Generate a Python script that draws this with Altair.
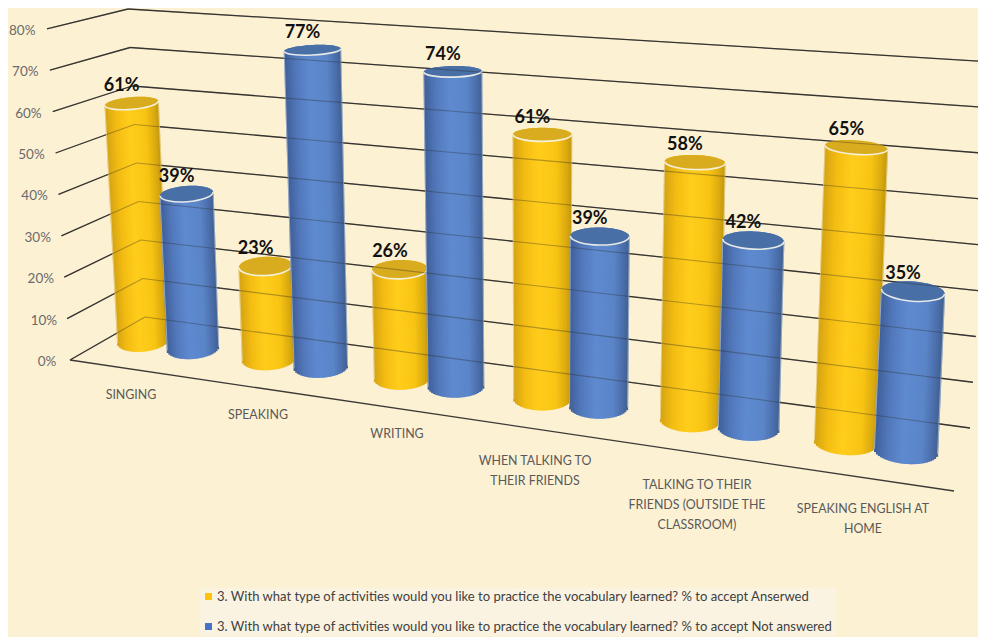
import math
import altair as alt
import pandas as pd

CATEGORIES = ["SINGING", "SPEAKING", "WRITING", "WHEN TALKING TO\nTHEIR FRIENDS",
              "TALKING TO THEIR\nFRIENDS (OUTSIDE THE\nCLASSROOM)", "SPEAKING ENGLISH AT\nHOME"]
ANSWERED = [61, 23, 26, 61, 58, 65]
NOT_ANSWERED = [39, 77, 74, 39, 42, 35]
TICKS = [0, 10, 20, 30, 40, 50, 60, 70, 80]
SERIES = ["3. With what type of activities would you like to practice the vocabulary learned? % to accept Anserwed",
          "3. With what type of activities would you like to practice the vocabulary learned? % to accept Not answered"]

BG = "#fdf1d4"
FONT = "Lato"
W, H = 978, 637
M = 8
sx = alt.Scale(domain=[M, W], range=[0, W - M])
sy = alt.Scale(domain=[M, H], range=[0, H - M])
X = alt.X("x:Q", scale=sx, axis=None)
Y = alt.Y("y:Q", scale=sy, axis=None)

STOPS = [
    [(-1, "#d2a214"), (-.6, "#f3bc12"), (-.1, "#ffcd1c"), (.5, "#f9c514"), (.85, "#d9a90f"), (1, "#c4980f")],
    [(-1, "#3f5e96"), (-.6, "#5278bb"), (-.1, "#5f8ad0"), (.5, "#5a85c8"), (.85, "#4a6ca8"), (1, "#41628f")],
]
CAP = ["#d9ab1e", "#486fa6"]


def shade(s, t):
    stops = STOPS[s]
    for (a, ca), (b, cb) in zip(stops, stops[1:]):
        if t <= b:
            f = (t - a) / (b - a)
            return "#" + "".join(
                "%02x" % round(int(ca[k:k + 2], 16) * (1 - f) + int(cb[k:k + 2], 16) * f) for k in (1, 3, 5))
    return stops[-1][1]


def project(i, s, value):
    xb = 143 + 122 * i + 3.7 * i * i + (s and 50 + 2.1 * i)
    low = 352 + .1443 * (xb - 141)
    d = xb - 141
    height = value * (3.90 + .0013 * d - 5.5e-7 * d * d)
    yb = low - 11
    yt = yb - height
    xt = xb + (xb - 540) * 1.2e-4 * height
    wb = 50.5 + (xb - 141) * .0165
    wt = wb + 3 * (1 - (xb - 141) / 800) * height / 240
    return dict(xb=xb, yb=yb, xt=xt, yt=yt, wb=wb, wt=wt, low=low,
                hb=9 + .04 * (yb - 47), ht=10 + .04 * (yt - 47), ang=(xt - 540) * .012)


def series_layers(s, values):
    strips, edges, caps = [], [], []
    n = 32
    for i, v in enumerate(values):
        p = project(i, s, v)
        tilt = math.tan(math.radians(p["ang"]))
        for k in range(n):
            t = -1 + (2 * k + 1) / n
            strips.append(dict(
                x=p["xt"] + t * p["wt"] / 2, y=p["yt"] + tilt * t * p["wt"] / 2,
                x2=p["xb"] + t * p["wb"] / 2,
                y2=p["yb"] + tilt * t * p["wb"] / 2 + p["hb"] / 2 * math.sqrt(1 - t * t),
                c=shade(s, t), w=p["wb"] / n + 1))
        for t in (-1, 1):
            edges.append(dict(x=p["xt"] + t * p["wt"] / 2, y=p["yt"] + tilt * t * p["wt"] / 2,
                              x2=p["xb"] + t * p["wb"] / 2, y2=p["yb"] + tilt * t * p["wb"] / 2))
        r = p["ht"] / p["wt"]
        caps.append(dict(
            x=p["xt"], y=p["yt"], series=SERIES[s], c=CAP[s], size=p["wt"] ** 2, ang=p["ang"] % 360,
            shape=f"M-1,0A1,{r:.3f},0,1,1,1,0A1,{r:.3f},0,1,1,-1,0Z",
            rim=f"M-1,0A1,{r:.3f},0,0,0,1,0"))
    sdf, edf, cdf = pd.DataFrame(strips), pd.DataFrame(edges), pd.DataFrame(caps)
    body = alt.Chart(sdf).mark_rule(strokeCap="butt").encode(
        X, Y, x2="x2:Q", y2="y2:Q",
        stroke=alt.Stroke("c:N", scale=None), size=alt.Size("w:Q", scale=None))
    edge = alt.Chart(edf).mark_rule(stroke="#ffffff", strokeWidth=1, opacity=.45).encode(X, Y, x2="x2:Q", y2="y2:Q")
    common = dict(x=X, y=Y, size=alt.Size("size:Q", scale=None), angle=alt.Angle("ang:Q", scale=None))
    base_cap = alt.Chart(cdf).mark_point(filled=True, opacity=1).encode(
        shape=alt.Shape("shape:N", scale=None),
        color=alt.Color("series:N", scale=alt.Scale(domain=SERIES, range=["#ffc20e", "#4472c4"]),
                        legend=alt.Legend(
                            title=None, orient="none", legendX=192, legendY=580, direction="vertical",
                            fillColor="#fbf3e2", padding=2, symbolType="square", symbolSize=49,
                            symbolOpacity=1, symbolStrokeWidth=0, labelFont=FONT, labelFontSize=13.05,
                            labelOffset=2, labelColor="#404040", labelLimit=700, rowPadding=16)),
        **common)
    top_cap = alt.Chart(cdf).mark_point(filled=True, opacity=1).encode(
        shape=alt.Shape("shape:N", scale=None), fill=alt.Fill("c:N", scale=None), **common)
    rim = alt.Chart(cdf).mark_point(filled=False, opacity=.9, stroke="#f6f6ee", strokeWidth=1.6).encode(
        shape=alt.Shape("rim:N", scale=None), **common)
    return [body, edge, base_cap, top_cap, rim]


grid = []
for k in range(len(TICKS)):
    front = (70 - 2.875 * k, 360 - 41.4 * k)
    corner = (145 - 2.125 * k, 317 - 38.5 * k)
    right = (970 + 2.9 * k, 428 - 45.75 * k)
    grid.append(dict(x=front[0], y=front[1], x2=corner[0], y2=corner[1]))
    grid.append(dict(x=corner[0], y=corner[1], x2=right[0], y2=right[1]))
grid.append(dict(x=70, y=360, x2=954, y2=491))
gdf = pd.DataFrame(grid)
grid_under = alt.Chart(gdf).mark_rule(stroke="#3c3a36", strokeWidth=1.3, clip=True).encode(X, Y, x2="x2:Q", y2="y2:Q")
grid_over = alt.Chart(gdf.iloc[:-1]).mark_rule(stroke="#2c2a26", strokeWidth=1.1, opacity=.35, clip=True).encode(
    X, Y, x2="x2:Q", y2="y2:Q")

tick_df = pd.DataFrame([dict(x=47 - 3.1 * k, y=362 - 41.4 * k, t=f"{v}%") for k, v in enumerate(TICKS)])
tick_text = alt.Chart(tick_df).mark_text(font=FONT, fontSize=13.5, color="#6a6a6a").encode(X, Y, text="t:N")

CAT_POS = [(131, 389), (258, 409), (397, 428), (535, 455), (697, 479), (863, 503)]
cat_df = pd.DataFrame([dict(x=p[0], y=p[1], t=c) for p, c in zip(CAT_POS, CATEGORIES)])
cat_text = alt.Chart(cat_df).mark_text(font=FONT, fontSize=12.4, color="#595959", lineBreak="\n", lineHeight=20,
                                       baseline="top").encode(X, Y, text="t:N")

rows = []
for s, vals in enumerate((ANSWERED, NOT_ANSWERED)):
    for i, v in enumerate(vals):
        p = project(i, s, v)
        rows.append(dict(x=p["xt"] - 10, y=p["yt"] - 17, t=f"{v}%"))
val_text = alt.Chart(pd.DataFrame(rows)).mark_text(font=FONT, fontSize=18, fontWeight="bold", color="#111111").encode(
    X, Y, text="t:N")

layers = [grid_under] + series_layers(0, ANSWERED) + series_layers(1, NOT_ANSWERED) + [grid_over, tick_text, cat_text, val_text]

chart = alt.layer(*layers).resolve_scale(color="shared").properties(
    width=W - M, height=H - M, padding=0, background=BG,
    autosize=alt.AutoSizeParams(type="none"),
).configure_view(stroke=None)

chart.save("out.html", embed_options={"renderer": "svg", "actions": False})
